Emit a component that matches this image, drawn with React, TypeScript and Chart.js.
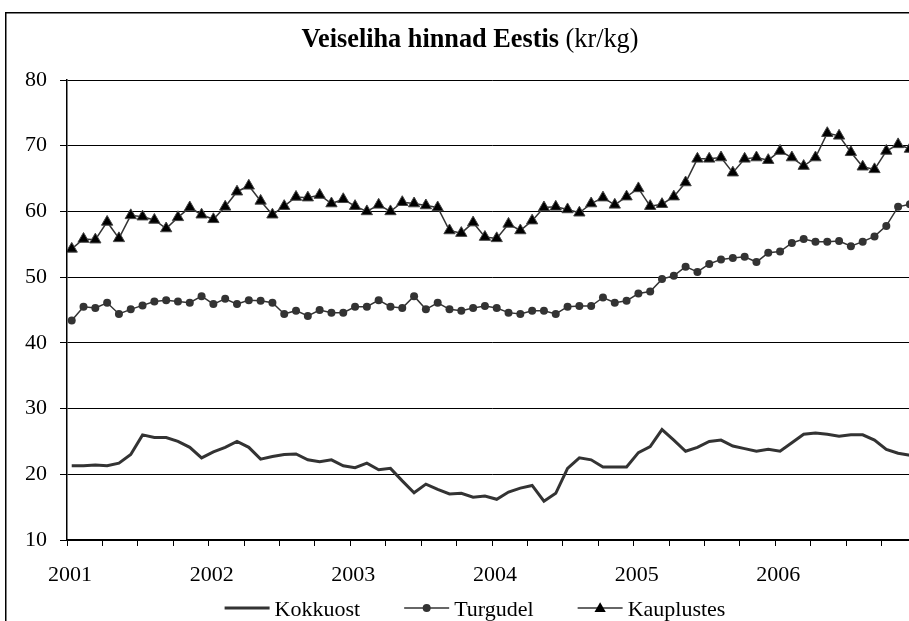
import React, { useEffect, useRef } from 'react';
import { Chart, registerables } from 'chart.js';

Chart.register(...registerables);

const TITLE_BOLD = 'Veiseliha hinnad Eestis';
const TITLE_UNIT = ' (kr/kg)';
const YEARS = ['2001', '2002', '2003', '2004', '2005', '2006'];
const SERIES_NAMES = ['Kokkuost', 'Turgudel', 'Kauplustes'];

const KOKKUOST = [
  21.3, 21.3, 21.4, 21.3, 21.7, 23.0, 26.0, 25.6, 25.6, 25.0, 24.1, 22.5,
  23.4, 24.1, 25.0, 24.1, 22.3, 22.7, 23.0, 23.1, 22.2, 21.9, 22.2, 21.3,
  21.0, 21.7, 20.7, 20.9, 19.0, 17.2, 18.5, 17.7, 17.0, 17.1, 16.5, 16.7,
  16.2, 17.3, 17.9, 18.3, 15.9, 17.1, 20.9, 22.5, 22.2, 21.1, 21.1, 21.1,
  23.3, 24.2, 26.8, 25.2, 23.5, 24.1, 25.0, 25.2, 24.3, 23.9, 23.5, 23.8,
  23.5, 24.8, 26.1, 26.3, 26.1, 25.8, 26.0, 26.0, 25.2, 23.8, 23.2, 22.9,
];

const TURGUDEL = [
  43.4, 45.5, 45.3, 46.1, 44.4, 45.1, 45.7, 46.3, 46.5, 46.3, 46.1, 47.1,
  45.9, 46.7, 45.9, 46.5, 46.4, 46.1, 44.4, 44.9, 44.1, 45.0, 44.6, 44.6,
  45.5, 45.5, 46.5, 45.5, 45.3, 47.1, 45.1, 46.1, 45.1, 44.9, 45.3, 45.6,
  45.3, 44.6, 44.4, 44.9, 44.9, 44.4, 45.5, 45.6, 45.6, 46.9, 46.1, 46.4,
  47.5, 47.8, 49.7, 50.2, 51.6, 50.8, 52.0, 52.7, 52.9, 53.1, 52.3, 53.7,
  53.9, 55.2, 55.8, 55.4, 55.4, 55.5, 54.7, 55.4, 56.2, 57.8, 60.7, 61.1,
];

const KAUPLUSTES = [
  54.3, 55.8, 55.7, 58.4, 55.9, 59.4, 59.2, 58.7, 57.4, 59.1, 60.6, 59.5,
  58.8, 60.7, 63.0, 63.9, 61.6, 59.5, 60.8, 62.2, 62.1, 62.5, 61.2, 61.85,
  60.8, 60.0, 61.0, 60.0, 61.4, 61.2, 60.9, 60.6, 57.1, 56.7, 58.3, 56.1,
  55.9, 58.1, 57.1, 58.6, 60.6, 60.7, 60.3, 59.8, 61.2, 62.1, 61.0, 62.25,
  63.5, 60.8, 61.1, 62.25, 64.4, 68.0, 68.0, 68.2, 65.9, 68.0, 68.2, 67.8,
  69.2, 68.2, 66.9, 68.2, 71.9, 71.5, 69.0, 66.8, 66.4, 69.2, 70.2, 69.5,
];

const Y_MIN = 10;
const Y_MAX = 80;
const Y_STEP = 10;
const MONTHS_PER_YEAR = 12;
const MONTHS_PER_TICK = 3;

const FONT = '"Liberation Serif", "Times New Roman", serif';
const MONTH_OFFSET = 0.4;

const STYLES = [
  { line: '#333333', width: 3, marker: 'none', radius: 0, fill: '#333333' },
  { line: '#333333', width: 1.5, marker: 'circle', radius: 4, fill: '#333333' },
  { line: '#333333', width: 1.5, marker: 'triangle', radius: 6.5, fill: '#000000' },
];

const toPoints = (values: number[]) => values.map((v, i) => ({ x: i + MONTH_OFFSET, y: v }));

const totalMonths = YEARS.length * MONTHS_PER_YEAR;
const X_TICKS: number[] = [];
for (let m = 0; m < totalMonths; m += MONTHS_PER_TICK) X_TICKS.push(m);

function drawMarker(ctx: CanvasRenderingContext2D, kind: string, x: number, y: number, r: number, fill: string) {
  ctx.fillStyle = fill;
  if (kind === 'circle') {
    ctx.beginPath();
    ctx.arc(x, y, r, 0, Math.PI * 2);
    ctx.fill();
  } else if (kind === 'triangle') {
    const h = r * 1.5;
    const half = r * 0.866;
    ctx.beginPath();
    ctx.moveTo(x, y - h / 2 - 1);
    ctx.lineTo(x + half, y + h / 2 - 1);
    ctx.lineTo(x - half, y + h / 2 - 1);
    ctx.closePath();
    ctx.fill();
  }
}

const decorPlugin = {
  id: 'decor',
  beforeDraw(chart: any) {
    const { ctx, width, height } = chart;
    ctx.save();
    ctx.fillStyle = '#ffffff';
    ctx.fillRect(0, 0, width, height);
    ctx.restore();
  },
  afterDraw(chart: any) {
    const ctx: CanvasRenderingContext2D = chart.ctx;
    const w = chart.width;
    const h = chart.height;
    ctx.save();
    // frame
    ctx.strokeStyle = '#000';
    ctx.lineWidth = 1.5;
    ctx.strokeRect(0.75, 0.75, w - 1.5, h - 1.5);

    // title
    ctx.textBaseline = 'alphabetic';
    ctx.textAlign = 'left';
    ctx.font = `bold 28px ${FONT}`;
    const wb = ctx.measureText(TITLE_BOLD).width;
    ctx.font = `28px ${FONT}`;
    const wu = ctx.measureText(TITLE_UNIT).width;
    const target = 337;
    const sx = target / (wb + wu);
    ctx.save();
    ctx.translate(w / 2 - target / 2, 35);
    ctx.scale(sx, 1);
    ctx.fillStyle = '#000';
    ctx.font = `bold 28px ${FONT}`;
    ctx.fillText(TITLE_BOLD, 0, 0);
    ctx.font = `28px ${FONT}`;
    ctx.fillText(TITLE_UNIT, wb, 0);
    ctx.restore();

    // legend
    ctx.font = `22px ${FONT}`;
    const lineLen = 45;
    const textGap = 5;
    const itemGap = 44;
    const widths = SERIES_NAMES.map((n) => lineLen + textGap + ctx.measureText(n).width);
    const total = widths.reduce((a, b) => a + b, 0) + itemGap * (SERIES_NAMES.length - 1);
    let x = w / 2 + 5 - total / 2;
    const ly = 596;
    SERIES_NAMES.forEach((name, i) => {
      const s = STYLES[i];
      ctx.strokeStyle = s.line;
      ctx.lineWidth = s.width;
      ctx.beginPath();
      ctx.moveTo(x, ly);
      ctx.lineTo(x + lineLen, ly);
      ctx.stroke();
      if (s.marker !== 'none') drawMarker(ctx, s.marker, x + lineLen / 2, ly, s.radius, s.fill);
      ctx.fillStyle = '#000';
      ctx.textBaseline = 'alphabetic';
      ctx.fillText(name, x + lineLen + textGap, 604);
      x += widths[i] + itemGap;
    });
    ctx.restore();
  },
};

export default function App() {
  const ref = useRef<HTMLCanvasElement>(null);
  useEffect(() => {
    const seriesValues = [KOKKUOST, TURGUDEL, KAUPLUSTES];
    const chart = new Chart(ref.current as HTMLCanvasElement, {
      type: 'line',
      data: {
        datasets: SERIES_NAMES.map((name, i) => ({
          label: name,
          data: toPoints(seriesValues[i]),
          borderColor: STYLES[i].line,
          borderWidth: STYLES[i].width,
          pointRadius: STYLES[i].radius,
          pointStyle: STYLES[i].marker === 'none' ? 'circle' : STYLES[i].marker,
          pointBackgroundColor: STYLES[i].fill,
          pointBorderColor: i === 2 ? '#444' : STYLES[i].fill,
          pointBorderWidth: i === 2 ? 1 : 0,
          tension: 0,
          fill: false,
        })) as any,
      },
      options: {
        responsive: false,
        animation: false,
        devicePixelRatio: 1,
        layout: { padding: { top: 68, right: 18, bottom: 62, left: 0 } },
        plugins: {
          legend: { display: false },
          title: { display: false },
          tooltip: { enabled: false },
        },
        scales: {
          x: {
            type: 'linear',
            min: 0,
            max: totalMonths,
            afterBuildTicks: (s: any) => {
              s.ticks = X_TICKS.map((v) => ({ value: v }));
            },
            afterFit: (s: any) => {
              s.height = 50;
            },
            grid: { drawOnChartArea: false, drawTicks: true, tickLength: 6, color: '#000', lineWidth: 1 },
            border: { color: '#000', width: 1.5 },
            ticks: {
              autoSkip: false,
              maxRotation: 0,
              padding: 16,
              labelOffset: 3,
              color: '#000',
              font: { family: FONT, size: 22 },
              callback: (v: any) => (v % MONTHS_PER_YEAR === 0 ? YEARS[v / MONTHS_PER_YEAR] ?? '' : ''),
            },
          },
          y: {
            min: Y_MIN,
            max: Y_MAX,
            afterFit: (s: any) => {
              s.width = 62;
            },
            ticks: { stepSize: Y_STEP, padding: 13, color: '#000', font: { family: FONT, size: 22 } },
            grid: { color: '#000', lineWidth: 1, tickLength: 7, drawTicks: true },
            border: { color: '#000', width: 1.5 },
          },
        },
      } as any,
      plugins: [decorPlugin],
    });
    return () => chart.destroy();
  }, []);
  return (
    <div
      style={{
        position: 'fixed',
        left: 0,
        top: 0,
        width: 909,
        height: 621,
        overflow: 'hidden',
        background: '#fff',
      }}
    >
      <canvas
        ref={ref}
        width={930}
        height={640}
        style={{ position: 'absolute', left: 5, top: 12, width: 930, height: 640 }}
      />
    </div>
  );
}
